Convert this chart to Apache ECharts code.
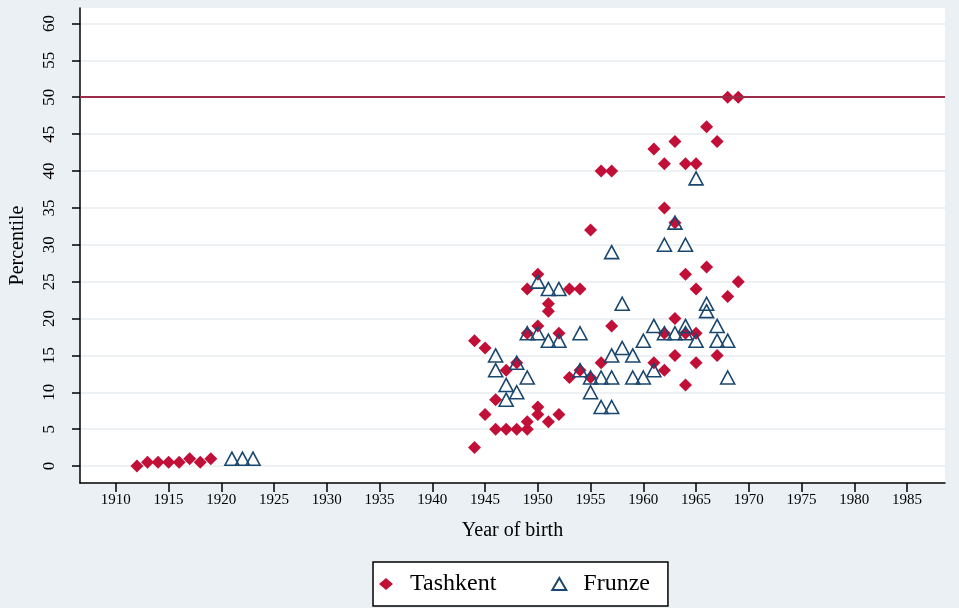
<!DOCTYPE html>
<html>
<head>
<meta charset="utf-8">
<script src="https://cdn.jsdelivr.net/npm/echarts@6/dist/echarts.min.js"></script>
<style>
  html, body { margin: 0; padding: 0; background: #eaf0f3; }
</style>
</head>
<body>
<div id="main" style="width:959px;height:608px;"></div>
<script>
// year of birth / percentile pairs
const tashkent = [
  [1912, 0], [1913, 0.5], [1914, 0.5], [1915, 0.5], [1916, 0.5], [1917, 1], [1918, 0.5], [1919, 1],
  [1944, 17], [1944, 2.5],
  [1945, 16], [1945, 7],
  [1946, 9], [1946, 5],
  [1947, 13], [1947, 5],
  [1948, 14], [1948, 5],
  [1949, 24], [1949, 18], [1949, 6], [1949, 5],
  [1950, 26], [1950, 19], [1950, 8], [1950, 7],
  [1951, 22], [1951, 21], [1951, 6],
  [1952, 18], [1952, 7],
  [1953, 24], [1953, 12],
  [1954, 24], [1954, 13],
  [1955, 32], [1955, 12],
  [1956, 40], [1956, 14],
  [1957, 40], [1957, 19],
  [1961, 43], [1961, 14],
  [1962, 41], [1962, 35], [1962, 18], [1962, 13],
  [1963, 44], [1963, 33], [1963, 20], [1963, 15],
  [1964, 41], [1964, 26], [1964, 18], [1964, 11],
  [1965, 41], [1965, 24], [1965, 18], [1965, 14],
  [1966, 46], [1966, 27],
  [1967, 44], [1967, 15],
  [1968, 50], [1968, 23],
  [1969, 50], [1969, 25]
]

const frunze = [
  [1921, 1], [1922, 1], [1923, 1],
  [1946, 15], [1946, 13],
  [1947, 11], [1947, 9],
  [1948, 14], [1948, 10],
  [1949, 18], [1949, 12],
  [1950, 25], [1950, 18],
  [1951, 24], [1951, 17],
  [1952, 24], [1952, 17],
  [1954, 18], [1954, 13],
  [1955, 12], [1955, 10],
  [1956, 12], [1956, 8],
  [1957, 29], [1957, 15], [1957, 12], [1957, 8],
  [1958, 22], [1958, 16],
  [1959, 15], [1959, 12],
  [1960, 17], [1960, 12],
  [1961, 19], [1961, 13],
  [1962, 30], [1962, 18],
  [1963, 33], [1963, 18],
  [1964, 30], [1964, 19], [1964, 18],
  [1965, 39], [1965, 17],
  [1966, 22], [1966, 21],
  [1967, 19], [1967, 17],
  [1968, 17], [1968, 12]
]

const xTicks = [1910, 1915, 1920, 1925, 1930, 1935, 1940, 1945, 1950, 1955, 1960, 1965, 1970, 1975, 1980, 1985]
const yTicks = [0, 5, 10, 15, 20, 25, 30, 35, 40, 45, 50, 55, 60]
const refLine = 50

const font = 'Liberation Serif'
const red = '#c20f38'
const navy = '#1a476f'

var myChart = echarts.init(document.getElementById('main'))

var option = {
  backgroundColor: '#eaf0f3',
  animation: false,
  grid: {
    left: 80, right: 14, top: 8, bottom: 125,
    show: true,
    backgroundColor: '#fff',
    borderWidth: 0
  },
  legend: {
    top: 562,
    left: 373,
    backgroundColor: '#fff',
    borderColor: '#000',
    borderWidth: 1.5,
    borderRadius: 0,
    padding: [10, 18, 10, 6],
    itemGap: 55,
    itemWidth: 14,
    itemHeight: 12,
    textStyle: { fontFamily: font, fontSize: 24, color: '#000', padding: [0, 0, 0, 12] },
    data: ['Tashkent', 'Frunze']
  },
  xAxis: {
    type: 'value',
    min: 1906.6,
    max: 1988.6,
    name: 'Year of birth',
    nameLocation: 'middle',
    nameGap: 38,
    nameTextStyle: { fontFamily: font, fontSize: 20, color: '#000' },
    axisLine: { onZero: false, lineStyle: { color: '#000', width: 1.5 } },
    axisTick: { show: true, length: 9, customValues: xTicks, lineStyle: { color: '#000', width: 1.5 } },
    axisLabel: {
      customValues: xTicks, color: '#000', fontFamily: font, fontSize: 15, margin: 10,
      formatter: v => String(v)
    },
    splitLine: { show: false }
  },
  yAxis: {
    type: 'value',
    min: -2.3,
    max: 62.1,
    name: 'Percentile',
    nameLocation: 'middle',
    nameGap: 52,
    nameTextStyle: { fontFamily: font, fontSize: 20, color: '#000' },
    axisLine: { show: true, lineStyle: { color: '#000', width: 1.5 } },
    axisTick: { show: true, length: 8, customValues: yTicks, lineStyle: { color: '#000', width: 1.5 } },
    axisLabel: { customValues: yTicks, rotate: 90, color: '#000', fontFamily: font, fontSize: 17, margin: 22 },
    splitLine: { show: true, lineStyle: { color: '#e8edf0', width: 1.5 } }
  },
  series: [
    {
      name: 'Tashkent',
      type: 'scatter',
      data: tashkent,
      symbol: 'diamond',
      symbolSize: [13, 13],
      itemStyle: { color: red, opacity: 1 },
      markLine: {
        silent: true,
        symbol: 'none',
        label: { show: false },
        lineStyle: { color: '#9b2d48', width: 2, type: 'solid' },
        data: [{ yAxis: refLine }]
      }
    },
    {
      name: 'Frunze',
      type: 'scatter',
      data: frunze,
      symbol: 'triangle',
      symbolSize: [14, 13],
      itemStyle: { color: 'rgba(255,255,255,0)', borderColor: navy, borderWidth: 1.6, opacity: 1 }
    }
  ]
}

myChart.setOption(option)
</script>
</body>
</html>
